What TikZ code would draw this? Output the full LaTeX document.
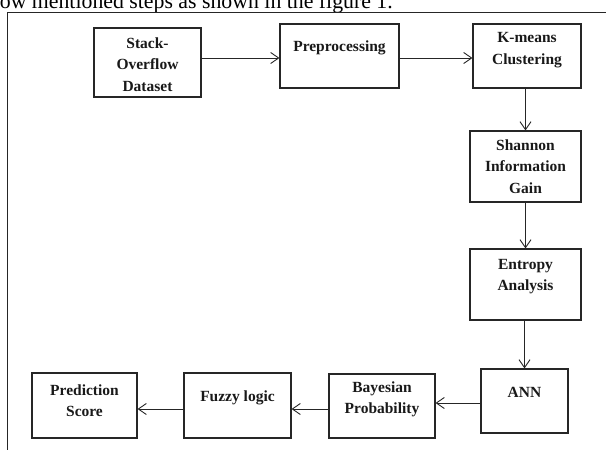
\documentclass[tikz,border=0pt]{standalone}
\usepackage{fontspec}
\setmainfont{Liberation Serif}
\usetikzlibrary{arrows.meta,calc}
\begin{document}
\begin{tikzpicture}[x=1pt,y=-1pt,
  box/.style={draw=black!85,line width=1.1pt,inner sep=0pt},
  lbl/.style={font=\fontsize{15.5}{21.5}\selectfont\bfseries,align=center,inner sep=0pt,text=black!90},
  arr/.style={draw=black!85,line width=0.9pt,-{Straight Barb[length=8pt,width=11pt,line width=0.9pt]}}
]
\useasboundingbox (0,0) rectangle (606,450);
\clip (0,0) rectangle (606,450);
\fill[white] (0,0) rectangle (606,450);
% cropped body text line
\node[anchor=base east,inner sep=0pt,font=\fontsize{21.8}{26}\selectfont] (bodytext) at (393,8.5) {below mentioned steps as shown in the figure 1.};
% frame
\draw[line width=1pt,black!85] (7,470) -- (7,12) -- (620,12);
% boxes
\node[box,minimum width=107pt,minimum height=69pt] (stack) at (147.5,62.5) {};
\node[box,minimum width=119pt,minimum height=64pt] (pre) at (339.5,56) {};
\node[box,minimum width=108pt,minimum height=64pt] (km) at (527,56) {};
\node[box,minimum width=111pt,minimum height=71pt] (sh) at (525.5,166.5) {};
\node[box,minimum width=111pt,minimum height=71pt] (en) at (525.5,284.5) {};
\node[box,minimum width=87pt,minimum height=64pt] (ann) at (524.5,401) {};
\node[box,minimum width=106pt,minimum height=64pt] (bay) at (382,406) {};
\node[box,minimum width=107pt,minimum height=65pt] (fuz) at (237.5,405.5) {};
\node[box,minimum width=105pt,minimum height=65pt] (pred) at (84.5,405.5) {};
% labels
\node[lbl] (stackt) at (147.5,64.5) {Stack-\\Overflow\\Dataset};
\node[lbl] (pret) at (339.5,48) {Preprocessing};
\node[lbl] (kmt) at (527,50) {K-means\\Clustering};
\node[lbl] (sht) at (525.5,166.5) {Shannon\\Information\\Gain};
\node[lbl] (ent) at (525.5,276.5) {Entropy\\Analysis};
\node[lbl] (annt) at (524.5,392) {ANN};
\node[lbl] (bayt) at (382,399.5) {Bayesian\\Probability};
\node[lbl] (fuzt) at (237.5,398) {Fuzzy logic};
\node[lbl] (predt) at (84.5,400.5) {Prediction\\Score};
% connectors
\coordinate (rowa) at (0,58);
\coordinate (rowb) at (0,403);
\coordinate (rowc) at (0,409);
\draw[arr] (stack.east |- rowa) -- (pre.west |- rowa);
\draw[arr] (pre.east |- rowa) -- (km.west |- rowa);
\draw[arr] (sh.north |- km.south) -- (sh.north);
\draw[arr] (sh.south) -- (en.north);
\draw[arr] (ann.north |- en.south) -- (ann.north);
\draw[arr] (ann.west |- rowb) -- (bay.east |- rowb);
\draw[arr] (bay.west |- rowc) -- (fuz.east |- rowc);
\draw[arr] (fuz.west |- rowc) -- (pred.east |- rowc);
\end{tikzpicture}
\end{document}
